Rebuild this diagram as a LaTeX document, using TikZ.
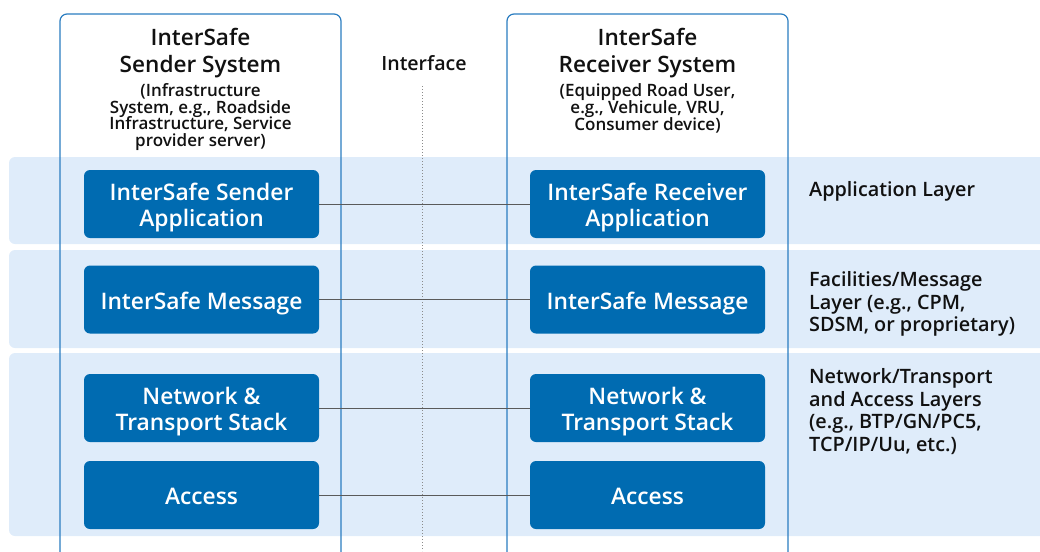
\documentclass[tikz,border=0pt]{standalone}
\usepackage{fontspec}
\setmainfont{Open Sans}
% semibold face where one is available, bold otherwise
\IfFontExistsTF{Open Sans Semibold}
  {\newfontfamily\semibold{Open Sans Semibold}}
  {\IfFontExistsTF{OpenSans-Semibold.otf}
    {\newfontfamily\semibold{OpenSans-Semibold.otf}}
    {\IfFontExistsTF{OpenSans-SemiBold.ttf}
      {\newfontfamily\semibold{OpenSans-SemiBold.ttf}}
      {\newcommand\semibold{\bfseries}}}}
\newcommand\tightlines{\lineskiplimit=-6pt\relax\lineskip=0pt\relax}
\definecolor{band}{HTML}{DFECFA}
\definecolor{boxblue}{HTML}{006BB1}
\definecolor{sysline}{HTML}{2A7CC0}
\definecolor{wire}{HTML}{5A5A5A}
\definecolor{ink}{HTML}{111111}
\begin{document}
\begin{tikzpicture}[x=1pt,y=-1pt,
  layerband/.style={fill=band,rounded corners=6pt},
  sysframe/.style={draw=sysline,line width=1.2pt,rounded corners=7pt},
  stackbox/.style={fill=boxblue,rounded corners=6pt,minimum width=235pt,minimum height=68pt,inner sep=0pt},
  stacktext/.style={text=white,align=center,font=\semibold\fontsize{22.8}{26}\selectfont,inner sep=0pt},
  titletext/.style={text=ink,align=center,font=\semibold\fontsize{22.6}{27}\selectfont},
  subtext/.style={text=ink,align=center,font=\semibold\fontsize{17}{16.7}\selectfont,
    execute at begin node=\tightlines},
  layertext/.style={text=ink,align=left,anchor=north west,font=\semibold\fontsize{19.8}{22.5}\selectfont,inner sep=0pt},
  link/.style={draw=wire,line width=0.9pt}]
\useasboundingbox (0,0) rectangle (1040,551);
% layer bands
\fill[layerband] (9,157) rectangle (1060,244);
\fill[layerband] (9,250) rectangle (1060,348);
\fill[layerband] (9,353) rectangle (1060,536);
% interface
\node[text=ink,font=\semibold\fontsize{19.6}{20}\selectfont] (iface) at (424,63) {Interface};
\coordinate (itop) at (422,86);
\coordinate (ibot) at (422,551);
\draw[wire!70,line width=1pt,dotted] (itop) -- (ibot);
% system frames
\draw[sysframe] (60,560) -- (60,14) -- (341,14) -- (341,560);
\draw[sysframe] (507,560) -- (507,14) -- (788,14) -- (788,560);
% system titles
\node[titletext] (stitle) at (200.5,53.5) {InterSafe\\Sender System};
\node[subtext] (ssub) at (200.5,117) {(Infrastructure\\System, e.g., Roadside\\Infrastructure, Service\\provider server)};
\node[titletext] (rtitle) at (647.5,53.5) {InterSafe\\Receiver System};
\node[subtext] (rsub) at (647.5,108.5) {(Equipped Road User,\\e.g., Vehicule, VRU,\\Consumer device)};
% stacks: boxes
\node[stackbox] (sapp) at (201.5,204) {};
\node[stackbox] (smsg) at (201.5,299.5) {};
\node[stackbox] (snet) at (201.5,408) {};
\node[stackbox] (sacc) at (201.5,495) {};
\node[stackbox] (rapp) at (647.5,204) {};
\node[stackbox] (rmsg) at (647.5,299.5) {};
\node[stackbox] (rnet) at (647.5,408) {};
\node[stackbox] (racc) at (647.5,495) {};
% stacks: labels
\node[stacktext] (sappt) at ([yshift=-4]sapp.center) {InterSafe Sender\\Application};
\node[stacktext] (smsgt) at ([yshift=-4]smsg.center) {InterSafe Message};
\node[stacktext] (snett) at ([yshift=-4]snet.center) {Network \&\\Transport Stack};
\node[stacktext] (sacct) at ([yshift=-1.5]sacc.center) {Access};
\node[stacktext] (rappt) at ([yshift=-4]rapp.center) {InterSafe Receiver\\Application};
\node[stacktext] (rmsgt) at ([yshift=-4]rmsg.center) {InterSafe Message};
\node[stacktext] (rnett) at ([yshift=-4]rnet.center) {Network \&\\Transport Stack};
\node[stacktext] (racct) at ([yshift=-1.5]racc.center) {Access};
% peer links
\draw[link] (sapp.east) -- (rapp.west);
\draw[link] (smsg.east) -- (rmsg.west);
\draw[link] (snet.east) -- (rnet.west);
\draw[link] (sacc.east) -- (racc.west);
% layer labels
\node[layertext] (lapp) at (809,181.5) {Application Layer};
\node[layertext] (lfac) at (809,271.5) {Facilities/Message\\Layer (e.g., CPM,\\SDSM, or proprietary)};
\node[layertext] (lnet) at (809,368.5) {Network/Transport\\and Access Layers\\(e.g., BTP/GN/PC5,\\TCP/IP/Uu, etc.)};
\end{tikzpicture}
\end{document}
